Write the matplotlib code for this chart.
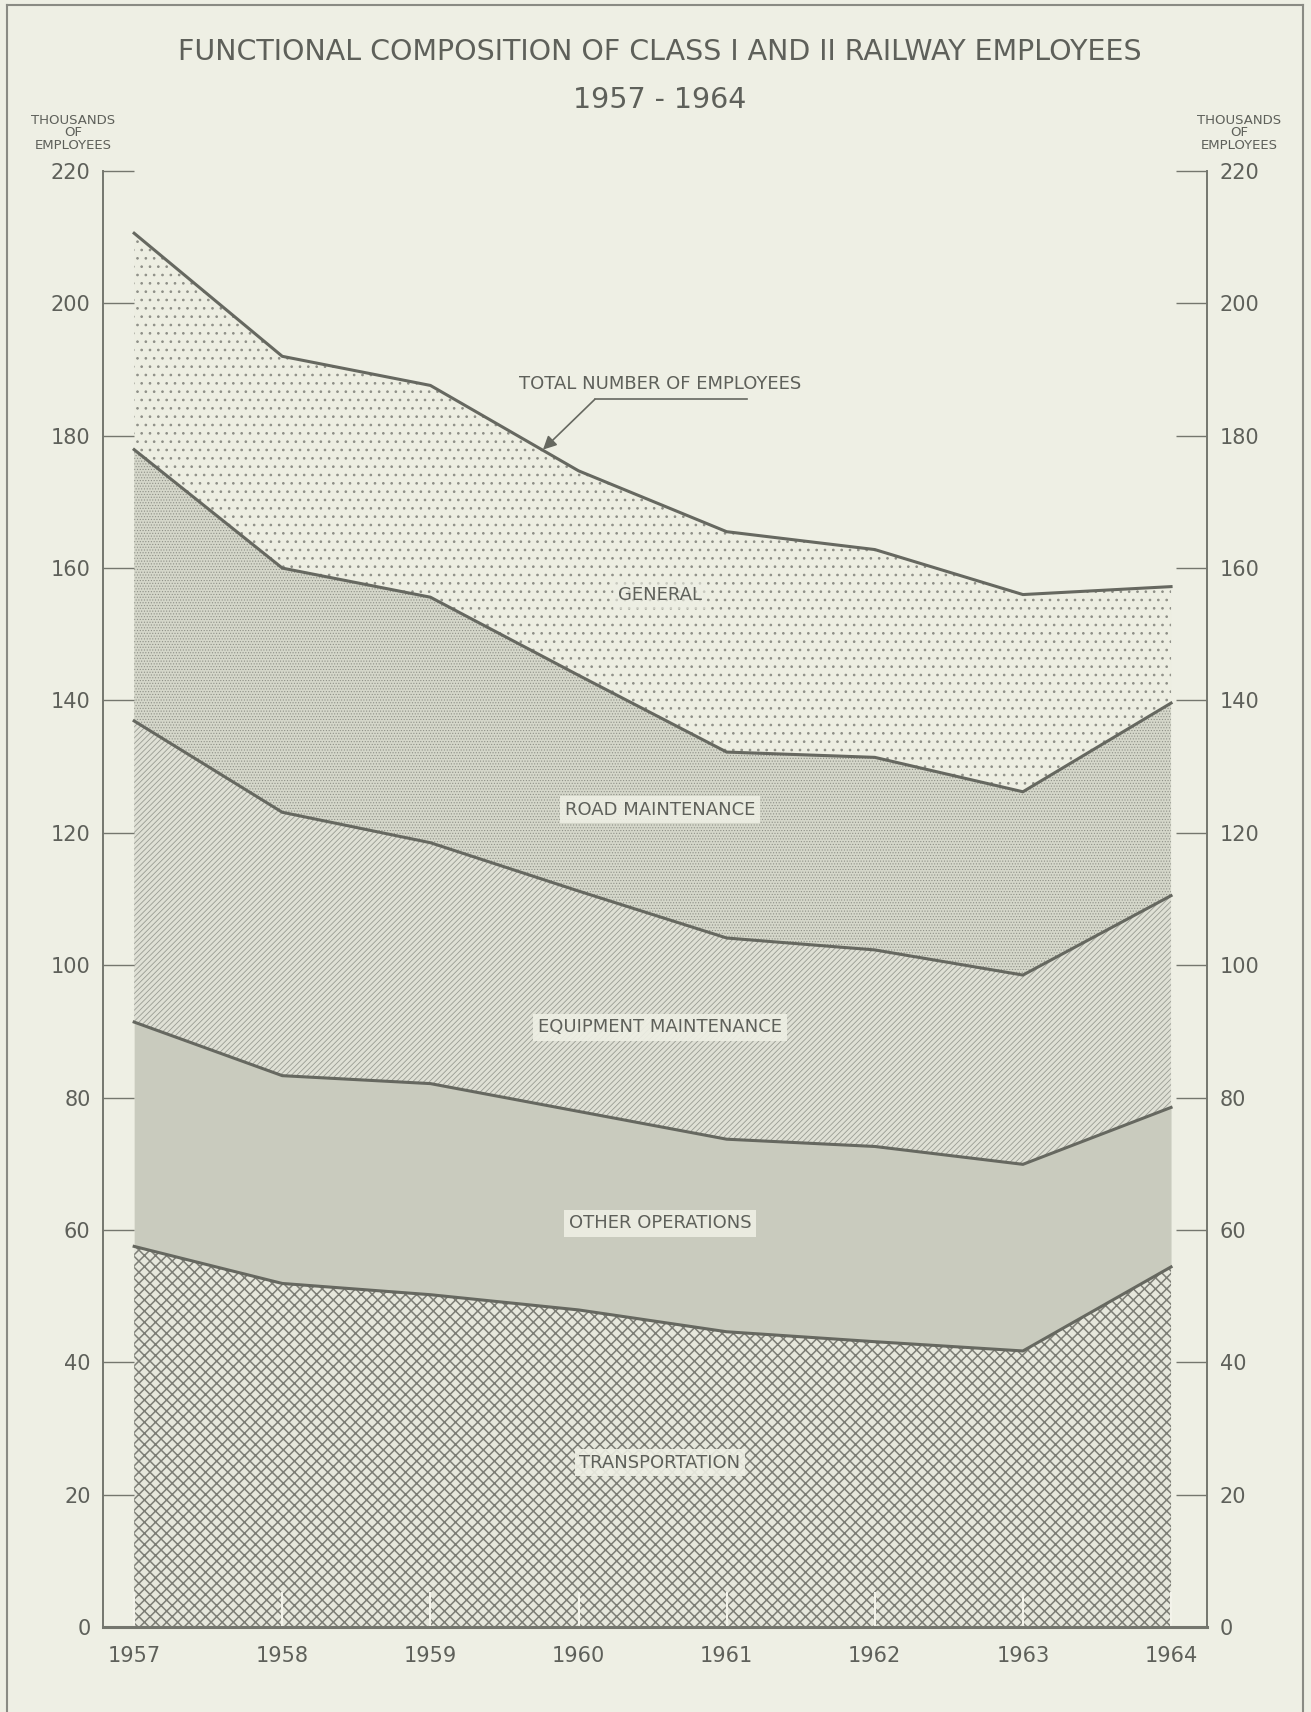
import numpy as np
import matplotlib.pyplot as plt
from matplotlib.lines import Line2D

# thousands of employees, Class I and II railways
years = [1957, 1958, 1959, 1960, 1961, 1962, 1963, 1964]
transportation = [57.5, 51.9, 50.2, 47.9, 44.6, 43.1, 41.7, 54.4]
other_operations = [33.9, 31.4, 31.9, 30.0, 29.1, 29.5, 28.2, 24.1]
equipment_maint = [45.5, 39.8, 36.4, 33.3, 30.4, 29.7, 28.6, 32.0]
road_maint = [41.0, 36.9, 37.1, 32.6, 28.1, 29.1, 27.7, 29.1]
general = [32.7, 32.0, 32.0, 30.9, 33.3, 31.4, 29.8, 17.6]

layer_names = ['TRANSPORTATION', 'OTHER OPERATIONS', 'EQUIPMENT MAINTENANCE',
               'ROAD MAINTENANCE', 'GENERAL']
yticks = [0, 20, 40, 60, 80, 100, 120, 140, 160, 180, 200, 220]

bg = '#eeefe4'
ink = '#666860'
txt = '#5e605a'

plt.rcParams['font.family'] = ['DejaVu Sans']

fig = plt.figure(figsize=(13.11, 17.12), dpi=100, facecolor=bg)
ax = fig.add_axes([0.0786, 0.0497, 0.8421, 0.8504])
ax.set_facecolor(bg)

layers = [transportation, other_operations, equipment_maint, road_maint, general]
tops = np.cumsum(np.array(layers), axis=0)
bottoms = np.vstack([np.zeros(len(years)), tops[:-1]])

# fill style for each band (bottom to top)
styles = [
    dict(face='#e6e7dc', hatch='xxx', hcol='#7d7e76', hlw=1.1),
    dict(face='#c9cbbe', hatch=None, hcol='#c9cbbe', hlw=1.0),
    dict(face='#dfe0d5', hatch='//////', hcol='#999b92', hlw=0.6),
    dict(face='#d5d7ca', hatch='......', hcol='#8e9087', hlw=0.5),
    dict(face='#edeee2', hatch='..', hcol='#8e8f87', hlw=0.7),
]

for bot, top, st in zip(bottoms, tops, styles):
    plt.rcParams['hatch.linewidth'] = st['hlw']
    ax.fill_between(years, bot, top, facecolor=st['face'], edgecolor=st['hcol'],
                    hatch=st['hatch'], linewidth=0, zorder=1)

for top in tops:
    ax.plot(years, top, color=ink, lw=2.2, zorder=3, solid_joinstyle='miter')

# band labels
label_y = [24.8, 61.0, 90.6, 123.5, 155.9]
for name, yv in zip(layer_names, label_y):
    ax.text(1960.55, yv, name, ha='center', va='center', fontsize=13, color=txt,
            zorder=4, bbox=dict(boxstyle='square,pad=0.25', facecolor=bg,
                                edgecolor='none', alpha=0.9 if name != 'GENERAL' else 0.6))

# total label with leader arrow
ax.text(1960.55, 187.8, 'TOTAL NUMBER OF EMPLOYEES', ha='center', va='center',
        fontsize=13, color=txt, zorder=4)
ax.plot([1960.11, 1961.14], [185.5, 185.5], color=ink, lw=1.2, zorder=4)
ax.annotate('', xy=(1959.76, 177.9), xytext=(1960.11, 185.5),
            arrowprops=dict(arrowstyle='-|>', color=ink, lw=1.2,
                            mutation_scale=20, shrinkA=0, shrinkB=0), zorder=4)

ax.set_xlim(1956.79, 1964.243)
ax.set_ylim(0, 220)
ax.set_xticks(years)
ax.set_xticklabels([str(y) for y in years])
ax.set_yticks(yticks)

for side in ['left', 'right', 'bottom']:
    ax.spines[side].set_color('#74766e')
    ax.spines[side].set_linewidth(1.4)
ax.spines['bottom'].set_linewidth(2.2)
ax.spines['top'].set_visible(False)

ax.tick_params(axis='y', direction='in', length=22.3, width=1.0, color='#74766e',
               labelsize=15, labelcolor=txt, pad=9, left=True, right=True,
               labelleft=True, labelright=True)
ax.tick_params(axis='x', direction='in', length=25, width=1.5, color='#f3f3ea',
               labelsize=15, labelcolor=txt, pad=14)

# axis unit captions
for xf in [0.0557, 0.9451]:
    fig.text(xf, 0.9225, 'THOUSANDS\nOF\nEMPLOYEES', ha='center', va='center',
             fontsize=9.5, color=txt, linespacing=0.95)

fig.text(0.5034, 0.9696, 'FUNCTIONAL COMPOSITION OF CLASS I AND II RAILWAY EMPLOYEES',
         ha='center', va='center', fontsize=20.5, color=txt)
fig.text(0.5034, 0.9416, '1957 - 1964', ha='center', va='center', fontsize=20.5,
         color=txt)

# sheet border
for xs, ys in [([0.005, 0.005], [0.0, 0.997]), ([0.005, 0.994], [0.997, 0.997]),
               ([0.994, 0.994], [0.0, 0.997])]:
    fig.add_artist(Line2D(xs, ys, color='#8a8b84', lw=1.5, transform=fig.transFigure))

fig.savefig('out.png', dpi=100, facecolor=bg)
